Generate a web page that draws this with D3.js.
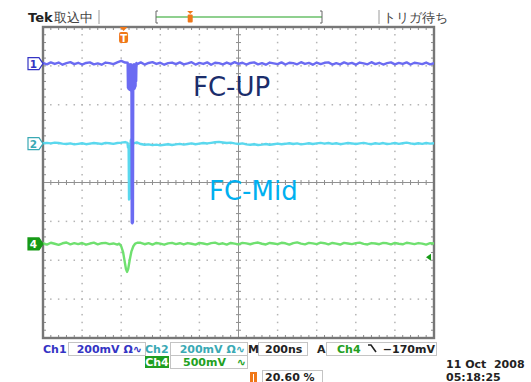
<!DOCTYPE html>
<html>
<head>
<meta charset="utf-8">
<script src="https://cdn.jsdelivr.net/npm/d3@7"></script>
<style>
  body { margin: 0; background: #fff; }
  svg { display: block; }
  text { font-family: "DejaVu Sans", sans-serif; }
</style>
</head>
<body>
<svg class="scope" width="531" height="382"></svg>
<script>
// scope settings
const chNames = ['Ch1', 'Ch2', 'Ch4']
const chNums = ['1', '2', '4']
const voltsPerDiv = [200, 200, 500]      // mV/div
const offsetsDiv = [3.06, 1.0, -1.58]    // trace position, divisions
const timePerDiv = 200                   // ns/div
const trigPosPct = 20.60
const trigLevelMv = -170
const tStep = 20                         // ns between samples

// samples (mV), one every tStep ns starting at the left edge of the screen
const ch1Mv = [3, -4, 6, -2, 5, -6, 2, 7, -3, 4,
  -5, 3, 6, -4, 1, -6, 5, 2, -3, 6,
  14, 5, 0, 0, -4, 6, -5, 3, 7, -2,
  4, -6, 2, 5, -3, 6, -4, 1, 7, -5,
  3, -2, 6, -6, 4, 2, -4, 5, -3, 7,
  -2, 4, -5, 3, 6, -4, 2, -6, 5, 1,
  -3, 6, -5, 4, 2, -4, 7, -2, 3, -6,
  5, -3, 4, 6, -5, 2, -4, 6, -2, 3,
  -6, 5, 1, -4, 7, -3, 4, -5, 2, 6,
  -4, 3, -2, 6, -5, 4, 1, -3, 5, -4, 2]
const ch2Mv = [2, 4, 1, 5, 3, 0, -2, 1, -4, -1,
  2, -3, 0, 3, 1, -2, 4, 2, -1, 3,
  5, 8, 0, 0, 6, -2, -6, -4, -8, -5,
  -9, -6, -3, -7, -4, -1, -5, -2, 1, -3,
  0, 3, 1, 4, 7, 9, 6, 3, 5, 1,
  -2, 1, -4, -6, -3, -7, -5, -2, -6, -3,
  0, -3, -1, 2, -2, 1, -4, -1, 2, -2,
  1, 4, 0, 3, -1, 2, -3, 0, 3, 1,
  -2, 1, 4, 0, -3, 2, -1, 3, -2, 0,
  3, -1, 2, 5, 1, -2, 2, -1, 3, 0, 2]
const ch4Mv = [10, -8, 15, 2, -12, 8, 18, -5, 10, -3,
  12, -10, 5, 16, -6, 9, 14, -2, 6, -9,
  0, 0, 0, 0, 8, 15, -4, 10, -8, 12,
  4, -10, 7, 14, -3, 9, -7, 11, 2, -9,
  13, 6, -5, 10, 16, -2, 8, -8, 12, 3,
  -6, 14, 7, -4, 10, 18, 2, -7, 12, 5,
  -3, 15, 8, -9, 11, 20, 4, -5, 13, 7,
  -2, 16, 9, -6, 12, 3, -8, 14, 6, -3,
  10, 17, 1, -7, 11, 5, -4, 13, 8, -6,
  12, 2, -5, 15, 7, -3, 11, 4, -8, 9, 5]

// fast detail around the trigger, [ns, mV]
const ch1Spike = [[21, 4], [22.5, -125], [24, -5], [25.5, -130], [27, -5], [28.5, -132],
  [30, -5], [31.5, -135], [33, -5], [34.5, -135], [36, -5], [37.5, -138], [39, -5],
  [40.5, -140], [42, -818], [45, -822], [48, -815], [49.5, -135], [51, -5], [52.5, -132],
  [54, -5], [55.5, -130], [57, -5], [58.5, -125], [60, -5], [61.5, -115], [63, -5],
  [64.5, -90], [66, 3]]
const ch2Spike = [[20, 4], [23, -20], [26, -10], [28, -288], [31, -284], [34, -30],
  [37, 18], [40, 22], [44, 6]]
const ch4Dip = [[-22, 4], [-12, -30], [-2, -110], [6, -230], [12, -320], [18, -360],
  [24, -320], [32, -200], [40, -100], [50, -30], [60, 5], [70, 15]]

const traceColors = ['#6b6bf2', '#5ad8ee', '#6fe06f']
const labelColors = ['#3434c4', '#3aa9b4', '#22a022']

let svg = d3.select('svg.scope')
const L = 43, R = 434, T = 27, B = 338

let xDiv = d3.scaleLinear().domain([0, 10]).range([L, R])
let yDiv = d3.scaleLinear().domain([-4, 4]).range([B, T])
let tStart = -trigPosPct / 100 * 10 * timePerDiv
let tx = d3.scaleLinear()
    .domain([tStart, tStart + 10 * timePerDiv])
    .range([L, R])

// ---- graticule
let grid = svg.append('g')
let dots = []
for (let i = 1; i < 10; i++) {
  if (i == 5) continue
  for (let k = 1; k < 40; k++) dots.push([i, k / 5 - 4])
}
for (let j = -3; j <= 3; j++) {
  if (j == 0) continue
  for (let k = 1; k < 50; k++) dots.push([k / 5, j])
}
grid.selectAll('rect.dot')
  .data(dots)
  .enter().append('rect')
    .attr('x', d => xDiv(d[0]) - 0.75)
    .attr('y', d => yDiv(d[1]) - 0.75)
    .attr('width', 1.5)
    .attr('height', 1.5)
    .attr('fill', '#b4b4b4')

// minor ticks on the frame and the centre lines
let ticks = []
for (let k = 1; k < 50; k++) {
  let x = xDiv(k / 5)
  ticks.push([x, T, x, T + 3], [x, B, x, B - 3], [x, yDiv(0) - 2.5, x, yDiv(0) + 2.5])
}
for (let k = 1; k < 40; k++) {
  let y = yDiv(k / 5 - 4)
  ticks.push([L, y, L + 3, y], [R, y, R - 3, y], [xDiv(5) - 2.5, y, xDiv(5) + 2.5, y])
}
grid.selectAll('line.tick')
  .data(ticks)
  .enter().append('line')
    .attr('x1', d => d[0]).attr('y1', d => d[1])
    .attr('x2', d => d[2]).attr('y2', d => d[3])
    .attr('stroke', '#8c8c8c')
    .attr('stroke-width', 1)

grid.append('line')
    .attr('x1', L).attr('x2', R)
    .attr('y1', yDiv(0)).attr('y2', yDiv(0))
    .attr('stroke', '#909090')
grid.append('line')
    .attr('x1', xDiv(5)).attr('x2', xDiv(5))
    .attr('y1', T).attr('y2', B)
    .attr('stroke', '#909090')
grid.append('rect')
    .attr('x', L).attr('y', T)
    .attr('width', R - L).attr('height', B - T)
    .attr('fill', 'none')
    .attr('stroke', '#777')
    .attr('stroke-width', 2.4)

// ---- traces
svg.append('clipPath').attr('id', 'screen')
  .append('rect').attr('x', L).attr('y', T).attr('width', R - L).attr('height', B - T)

function build(base, extra) {
  let pts = base.map((v, i) => [tStart + i * tStep, v])
  let lo = extra[0][0], hi = extra[extra.length - 1][0]
  pts = pts.filter(p => p[0] < lo || p[0] > hi).concat(extra)
  return pts.sort((a, b) => a[0] - b[0])
}

let series = [build(ch1Mv, ch1Spike), build(ch2Mv, ch2Spike), build(ch4Mv, ch4Dip)]

let traces = svg.append('g').attr('clip-path', 'url(#screen)')
;[2, 1, 0].forEach(c => {
  let line = d3.line()
      .x(d => tx(d[0]))
      .y(d => yDiv(offsetsDiv[c] + d[1] / voltsPerDiv[c]))
  traces.append('path')
      .attr('d', line(series[c]))
      .attr('fill', 'none')
      .attr('stroke', traceColors[c])
      .attr('stroke-width', 2.4)
      .attr('stroke-linejoin', 'round')
})

// channel markers at the left
chNums.forEach((n, c) => {
  let y = yDiv(offsetsDiv[c])
  let filled = c == 2
  svg.append('path')
      .attr('d', `M28,${y - 6}H39L43,${y}L39,${y + 6}H28Z`)
      .attr('fill', filled ? '#179a17' : '#fff')
      .attr('stroke', filled ? '#179a17' : labelColors[c])
      .attr('stroke-width', 1.2)
  svg.append('text')
      .attr('x', 33.5).attr('y', y + 4)
      .attr('text-anchor', 'middle')
      .attr('font-size', 10.5).attr('font-weight', 'bold')
      .attr('fill', filled ? '#fff' : labelColors[c])
      .text(n)
})

// trigger position marker (top) and trigger level arrow (right)
let tx0 = tx(0)
svg.append('path')
    .attr('d', `M${tx0 - 4},${T}H${tx0 + 4}L${tx0},${T + 4}Z`)
    .attr('fill', '#f07818')
svg.append('rect')
    .attr('x', tx0 - 4.5).attr('y', T + 5)
    .attr('width', 9).attr('height', 11).attr('rx', 2)
    .attr('fill', '#f07818')
svg.append('text')
    .attr('x', tx0).attr('y', T + 14.5)
    .attr('text-anchor', 'middle')
    .attr('font-size', 10).attr('font-weight', 'bold')
    .attr('fill', '#fff')
    .text('T')

let yTrig = yDiv(offsetsDiv[2] + trigLevelMv / voltsPerDiv[2])
svg.append('path')
    .attr('d', `M${R - 8},${yTrig}L${R - 3},${yTrig - 3.5}V${yTrig + 3.5}Z`)
    .attr('fill', '#179a17')

// ---- top status bar
let topBar = svg.append('g')
topBar.append('text').attr('x', 28).attr('y', 22)
    .attr('font-size', 13).attr('font-weight', 'bold').attr('fill', '#222')
    .text('Tek')
topBar.append('text').attr('x', 54).attr('y', 22)
    .attr('font-family', '"Noto Sans CJK JP"')
    .attr('font-size', 12.5).attr('fill', '#444')
    .text('取込中')
topBar.append('text').attr('x', 383).attr('y', 22)
    .attr('font-family', '"Noto Sans CJK JP"')
    .attr('font-size', 12.5).attr('fill', '#444')
    .text('トリガ待ち')
;[99, 379].forEach(x => {
  topBar.append('line').attr('x1', x).attr('x2', x).attr('y1', 10).attr('y2', 24)
      .attr('stroke', '#9a9a9a')
})

let recBar = d3.scaleLinear().domain([0, 100]).range([156, 322])
topBar.append('line')
    .attr('x1', recBar(0)).attr('x2', recBar(100)).attr('y1', 17).attr('y2', 17)
    .attr('stroke', '#8fd08f').attr('stroke-width', 2)
topBar.append('path')
    .attr('d', `M${recBar(0) + 2},11H${recBar(0)}V23H${recBar(0) + 2}M${recBar(100) - 2},11H${recBar(100)}V23H${recBar(100) - 2}`)
    .attr('fill', 'none').attr('stroke', '#666').attr('stroke-width', 1)
let rp = recBar(trigPosPct)
topBar.append('path')
    .attr('d', `M${rp - 3},11H${rp + 3}L${rp},14Z`)
    .attr('fill', '#f07818')
topBar.append('rect')
    .attr('x', rp - 2.5).attr('y', 14.5).attr('width', 5).attr('height', 8).attr('rx', 1)
    .attr('fill', '#f07818')

// ---- bottom readouts
let bot = svg.append('g').attr('font-size', 11).attr('font-weight', 'bold')

function box(x, y, w, h) {
  bot.append('rect').attr('x', x).attr('y', y).attr('width', w).attr('height', h)
      .attr('fill', '#fff').attr('stroke', '#c4c4c4')
}
function label(x, y, s, color, anchor) {
  return bot.append('text').attr('x', x).attr('y', y)
      .attr('text-anchor', anchor || 'start')
      .attr('fill', color).text(s)
}

box(68.5, 342.5, 77, 13)
box(170.5, 342.5, 77, 13)
box(258.5, 342.5, 49, 13)
box(326.5, 342.5, 110, 13)
box(170.5, 355.5, 77, 13)
box(262.5, 370.5, 60, 12)

label(43, 352.5, chNames[0], labelColors[0])
label(142, 352.5, `${voltsPerDiv[0]}mV Ω∿`, labelColors[0], 'end')
label(145, 352.5, chNames[1], labelColors[1])
label(245, 352.5, `${voltsPerDiv[1]}mV Ω∿`, labelColors[1], 'end')
label(248, 352.5, 'M', '#222')
label(265, 352.5, `${timePerDiv}ns`, '#222')
label(317, 352.5, 'A', '#222')
label(337, 352.5, chNames[2], labelColors[2])
bot.append('path')
    .attr('d', 'M368,345H371L376,352')
    .attr('fill', 'none').attr('stroke', '#222').attr('stroke-width', 1.6)
label(435, 352.5, `${trigLevelMv < 0 ? '−' : ''}${Math.abs(trigLevelMv)}mV`, '#222', 'end')

bot.append('rect').attr('x', 145).attr('y', 356).attr('width', 24).attr('height', 12)
    .attr('fill', '#1f9e1f')
label(157, 365.5, chNames[2], '#fff', 'middle')
label(183, 365.5, `${voltsPerDiv[2]}mV`, labelColors[2])
label(246, 365.5, '∿', labelColors[2], 'end')

bot.append('rect').attr('x', 250).attr('y', 372).attr('width', 7).attr('height', 10)
    .attr('fill', '#f07818')
bot.append('line').attr('x1', 253.5).attr('x2', 253.5).attr('y1', 374).attr('y2', 382)
    .attr('stroke', '#fff').attr('stroke-width', 1)
label(265, 380.5, `${trigPosPct.toFixed(2)} %`, '#222')

label(446, 368, '11 Oct  2008', '#222').style('white-space', 'pre')
label(446, 380.5, '05:18:25', '#222')

// ---- slide annotations
svg.append('text')
    .attr('x', 193).attr('y', 96)
    .attr('font-family', '"Noto Sans", sans-serif')
    .attr('font-size', 26)
    .attr('fill', '#1b2d6b')
    .text('FC-UP')
svg.append('text')
    .attr('x', 209).attr('y', 200)
    .attr('font-family', '"Noto Sans", sans-serif')
    .attr('font-size', 26)
    .attr('fill', '#00b0f0')
    .text('FC-Mid')
</script>
</body>
</html>
